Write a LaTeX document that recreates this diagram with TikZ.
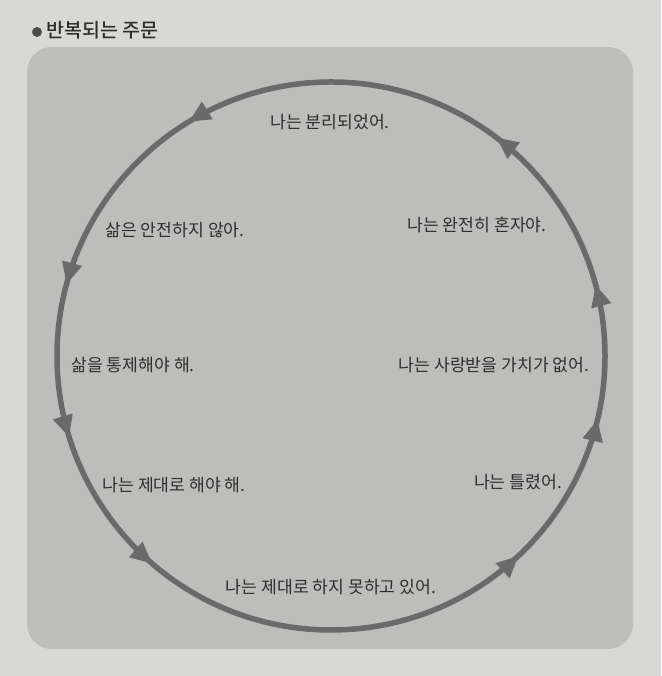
\documentclass[tikz,border=0pt]{standalone}
\usepackage{fontspec}
\usepackage{xcolor}
\usepackage{tikz}
\usetikzlibrary{calc}
\usetikzlibrary{arrows.meta}
\usetikzlibrary{decorations.markings}
\newfontfamily\krfont{Noto Sans CJK KR}
\newfontfamily\krbold{Noto Sans CJK KR Medium}
\definecolor{pagegray}{HTML}{D8D8D5}
\definecolor{boxgray}{HTML}{BDBDBB}
\definecolor{ringgray}{HTML}{6A6A6A}
\definecolor{inkgray}{HTML}{2E2E2E}

\begin{document}
\begin{tikzpicture}
    [x=1pt,y=1pt,line join=round,
     thought/.style={text=inkgray,font=\krfont\fontsize{17.2}{20}\selectfont,inner sep=0pt},
     ring/.style={draw=ringgray,line width=5.5pt,
       decoration={markings,
         mark=at position 0.042 with {\arrow{Triangle[length=22pt,width=19pt]}},
         mark=at position 0.147 with {\arrow{Triangle[length=22pt,width=19pt]}},
         mark=at position 0.337 with {\arrow{Triangle[length=22pt,width=19pt]}},
         mark=at position 0.458 with {\arrow{Triangle[length=22pt,width=19pt]}},
         mark=at position 0.548 with {\arrow{Triangle[length=22pt,width=19pt]}},
         mark=at position 0.637 with {\arrow{Triangle[length=22pt,width=19pt]}},
         mark=at position 0.870 with {\arrow{Triangle[length=22pt,width=19pt]}},
         mark=at position 0.963 with {\arrow{Triangle[length=22pt,width=19pt]}}},
       postaction={decorate}}]

    \useasboundingbox (0,0) rectangle (661,676);
    \fill[pagegray] (0,0) rectangle (661,676);
    \fill[boxgray,rounded corners=25pt] (27,27) rectangle (633,629);

    % title
    \fill[inkgray!85] (37,644) circle (5pt);
    \node[anchor=west,text=inkgray,font=\krbold\fontsize{19.5}{23}\selectfont,inner sep=0pt] (title) at (46,646) {반복되는 주문};

    % the loop
    \coordinate (O) at (331,320);
    \draw[ring] ($(O)+(274,0)$) arc[start angle=0,end angle=360,radius=274];

    \node[thought] (separated) at (330,554) {나는 분리되었어.};
    \node[thought] (alone)     at (477,451) {나는 완전히 혼자야.};
    \node[thought] (unsafe)    at (175,446) {삶은 안전하지 않아.};
    \node[thought] (control)   at (133,311) {삶을 통제해야 해.};
    \node[thought] (unloved)   at (494,311) {나는 사랑받을 가치가 없어.};
    \node[thought] (wrong)     at (518,194) {나는 틀렸어.};
    \node[thought] (mustdo)    at (174,191) {나는 제대로 해야 해.};
    \node[thought] (failing)   at (331,89)  {나는 제대로 하지 못하고 있어.};
  \end{tikzpicture}
\end{document}
